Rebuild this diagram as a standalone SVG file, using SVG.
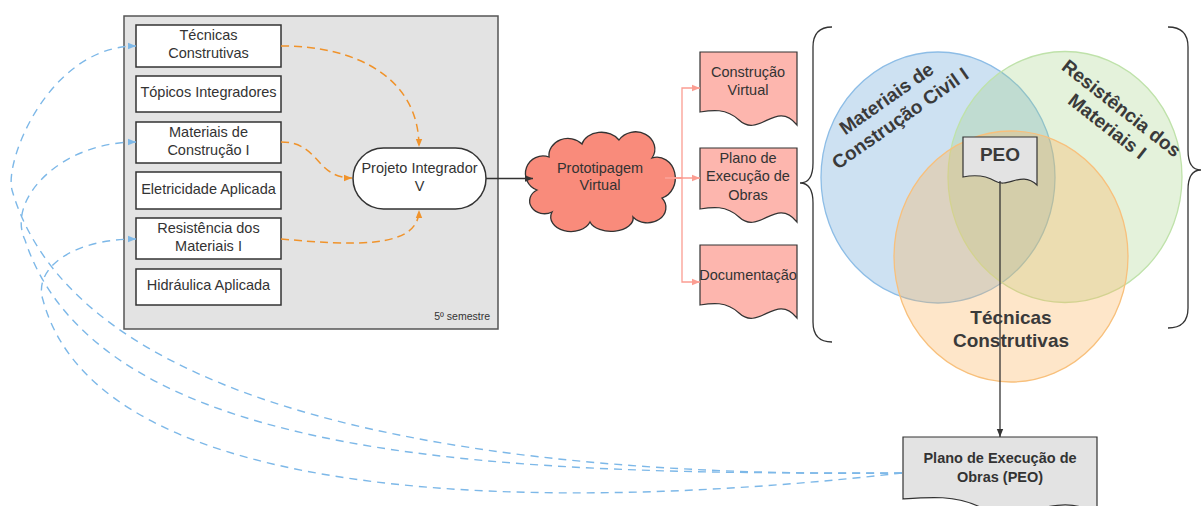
<svg xmlns="http://www.w3.org/2000/svg" width="1201" height="506" viewBox="0 0 1201 506">
  <defs>
    <style>
      text { font-family: "Liberation Sans", Arial, sans-serif; fill: #333; }
      .lbl { font-size: 14.5px; text-anchor: middle; }
      .venn { font-size: 19px; font-weight: bold; text-anchor: middle; fill: #3a3a3a; }
      .box { fill: #fff; stroke: #333; stroke-width: 1.5; }
      .doc { fill: #fdb6ae; stroke: #333; stroke-width: 1.2; }
      .gdoc { fill: #e3e3e3; stroke: #333; stroke-width: 1.2; }
      .dash-o { fill: none; stroke: #f0932b; stroke-width: 1.5; stroke-dasharray: 8 5; }
      .dash-b { fill: none; stroke: #7db8e8; stroke-width: 1.4; stroke-dasharray: 8 6; }
      .pink { fill: none; stroke: #fb9d92; stroke-width: 1.3; }
      .dark { fill: none; stroke: #333; stroke-width: 1.3; }
      .brace { fill: none; stroke: #333; stroke-width: 1.3; }
    </style>
    <marker id="aO" viewBox="0 0 10 10" refX="10" refY="5" markerWidth="10" markerHeight="8" markerUnits="userSpaceOnUse" orient="auto">
      <path d="M0,1 L10,5 L0,9 Z" fill="#f0932b"/>
    </marker>
    <marker id="aB" viewBox="0 0 10 10" refX="10" refY="5" markerWidth="10" markerHeight="8" markerUnits="userSpaceOnUse" orient="auto">
      <path d="M0,1 L10,5 L0,9 Z" fill="#7db8e8"/>
    </marker>
    <marker id="aP" viewBox="0 0 10 10" refX="10" refY="5" markerWidth="10" markerHeight="8" markerUnits="userSpaceOnUse" orient="auto">
      <path d="M0,1 L10,5 L0,9 Z" fill="#fb9d92"/>
    </marker>
    <marker id="aD" viewBox="0 0 10 10" refX="10" refY="5" markerWidth="10" markerHeight="8" markerUnits="userSpaceOnUse" orient="auto">
      <path d="M0,1 L10,5 L0,9 Z" fill="#333"/>
    </marker>
  </defs>

  <!-- semester container -->
  <g id="semestre">
    <rect x="124" y="16" width="374" height="313" fill="#e3e3e3" stroke="#555" stroke-width="1.5"/>
    <text x="490" y="320" style="font-size:10.5px;text-anchor:end">5º semestre</text>
  </g>

  <g id="tecnicas">
    <rect class="box" x="136" y="25" width="145" height="42"/>
    <text class="lbl" x="208.5" y="40">Técnicas</text>
    <text class="lbl" x="208.5" y="58">Construtivas</text>
  </g>
  <g id="topicos">
    <rect class="box" x="136" y="76" width="145" height="36"/>
    <text class="lbl" x="208.5" y="97">Tópicos Integradores</text>
  </g>
  <g id="materiais">
    <rect class="box" x="136" y="122" width="145" height="41"/>
    <text class="lbl" x="208.5" y="137">Materiais de</text>
    <text class="lbl" x="208.5" y="155">Construção I</text>
  </g>
  <g id="eletricidade">
    <rect class="box" x="136" y="172" width="145" height="37"/>
    <text class="lbl" x="208.5" y="194">Eletricidade Aplicada</text>
  </g>
  <g id="resistencia">
    <rect class="box" x="136" y="218" width="145" height="41"/>
    <text class="lbl" x="208.5" y="233">Resistência dos</text>
    <text class="lbl" x="208.5" y="251">Materiais I</text>
  </g>
  <g id="hidraulica">
    <rect class="box" x="136" y="269" width="145" height="36"/>
    <text class="lbl" x="208.5" y="290">Hidráulica Aplicada</text>
  </g>

  <g id="projeto">
    <rect class="box" x="353" y="148" width="133" height="61" rx="30.5" ry="30.5"/>
    <text class="lbl" x="419.5" y="173">Projeto Integrador</text>
    <text class="lbl" x="419.5" y="191">V</text>
  </g>

  <g id="prototipagem">
    <path d="M537,190 A15,15 0 0 1 549,157 A19,17 0 0 1 582,144 A20,15 0 0 1 619,140 A18,16 0 0 1 652,158 A15,17 0 0 1 662,198 A18,15 0 0 1 633,217 A22,13 0 0 1 590,222 A18,13 0 0 1 552,212 A14,12 0 0 1 537,190 Z" fill="#f98b7b" stroke="#333" stroke-width="1.3"/>
    <text class="lbl" x="600" y="173">Prototipagem</text>
    <text class="lbl" x="600" y="190">Virtual</text>
  </g>

  <g id="doc-construcao">
    <path class="doc" d="M700,52 H797 V125 C776,99 759,139 739,120 C726,108 712,110 700,112 Z"/>
    <text class="lbl" x="748" y="77">Construção</text>
    <text class="lbl" x="748" y="95">Virtual</text>
  </g>
  <g id="doc-plano">
    <path class="doc" d="M700,148 H797 V222 C776,196 759,236 739,217 C726,205 712,207 700,209 Z"/>
    <text class="lbl" x="748" y="163">Plano de</text>
    <text class="lbl" x="748" y="181">Execução de</text>
    <text class="lbl" x="748" y="200">Obras</text>
  </g>
  <g id="doc-documentacao">
    <path class="doc" d="M700,245 H797 V318 C776,292 759,332 739,313 C726,301 712,303 700,305 Z"/>
    <text class="lbl" x="748" y="280">Documentação</text>
  </g>

  <!-- braces around the three-circle diagram -->
  <g id="chaves">
    <path class="brace" d="M832,27 Q813,27 813,47 V163 Q813,183 800,183 Q813,183 813,203 V322 Q813,342 832,342"/>
    <path class="brace" d="M1168,27 Q1188,27 1188,47 V150 Q1188,170 1201,170 Q1188,170 1188,190 V308 Q1188,328 1168,328"/>
  </g>

  <!-- Venn of the three subjects -->
  <g id="venn">
    <ellipse cx="938" cy="177.5" rx="117" ry="125.5" fill="#5b9bd5" fill-opacity="0.3" stroke="#8dbde6" stroke-width="1.3"/>
    <ellipse cx="1065" cy="177" rx="117" ry="125.5" fill="#9fd17e" fill-opacity="0.28" stroke="#bfe2aa" stroke-width="1.3"/>
    <ellipse cx="1011" cy="256.5" rx="117" ry="125.5" fill="#fcb25a" fill-opacity="0.33" stroke="#f8c07c" stroke-width="1.3"/>
    <g transform="translate(893,108) rotate(-35)">
      <text class="venn" x="0" y="-5">Materiais de</text>
      <text class="venn" x="0" y="19">Construção Civil I</text>
    </g>
    <g transform="translate(1115,116.5) rotate(38)">
      <text class="venn" x="0" y="-4">Resistência dos</text>
      <text class="venn" x="0" y="19">Materiais I</text>
    </g>
    <text class="venn" x="1011" y="324">Técnicas</text>
    <text class="venn" x="1011" y="347">Construtivas</text>
  </g>

  <g id="peo">
    <path class="gdoc" d="M963,137 H1037 V185 C1021,170 1008,189 995,181 C985,175 973,175 963,177 Z"/>
    <text class="venn" x="1000" y="161">PEO</text>
  </g>

  <g id="plano-peo">
    <path class="gdoc" d="M903,437 H1097 V514 C1055,488 1020,528 980,507 C955,495 930,497 903,499 Z"/>
    <text class="lbl" x="1000" y="463" style="font-weight:bold">Plano de Execução de</text>
    <text class="lbl" x="1000" y="482" style="font-weight:bold">Obras (PEO)</text>
  </g>

  <!-- connectors -->
  <g id="connectors">
    <path class="dash-o" d="M281,46 C360,46 419,80 419,147" marker-end="url(#aO)"/>
    <path class="dash-o" d="M281,142 C320,142 315,178 352,178" marker-end="url(#aO)"/>
    <path class="dash-o" d="M281,239 C350,245 419,250 419,210" marker-end="url(#aO)"/>

    <path class="dark" d="M486,178.5 H533" marker-end="url(#aD)"/>

    <path class="pink" d="M665,178 H700" marker-end="url(#aP)"/>
    <path class="pink" d="M665,178 H682 V88 H700" marker-end="url(#aP)"/>
    <path class="pink" d="M665,178 H682 V282 H700" marker-end="url(#aP)"/>

    <path class="dark" d="M1000,181 V437" marker-end="url(#aD)"/>

    <path class="dash-b" d="M902,473 C520,478 80,425 12,190 C4,160 50,46 136,46" marker-end="url(#aB)"/>
    <path class="dash-b" d="M902,473 C520,474 100,468 25,240 C6,200 60,142 136,142" marker-end="url(#aB)"/>
    <path class="dash-b" d="M902,473 C560,512 100,512 43,300 C33,270 70,239 136,239" marker-end="url(#aB)"/>
  </g>
</svg>
